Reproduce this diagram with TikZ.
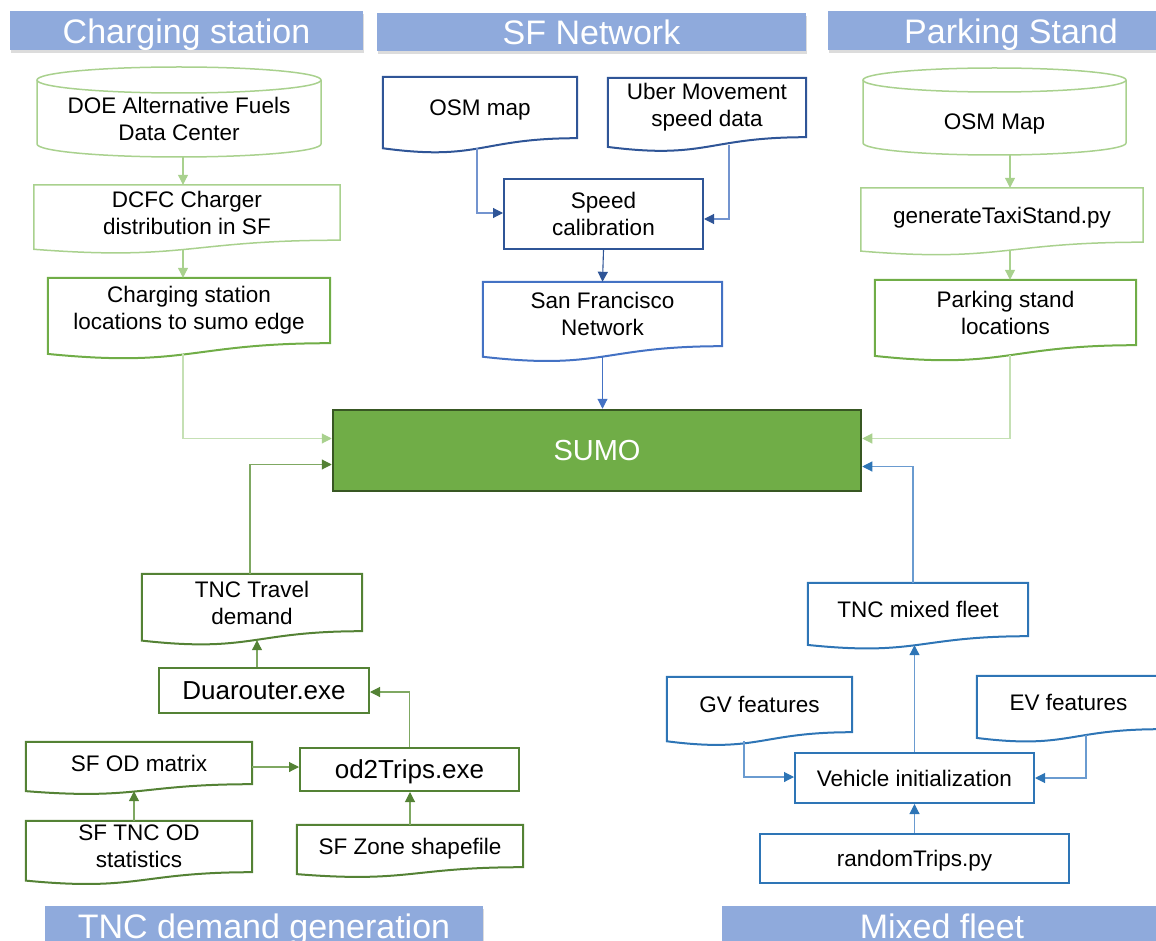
\documentclass[tikz,border=0pt]{standalone}
\usepackage{fontspec}
\setmainfont{Liberation Sans}
\usetikzlibrary{arrows.meta,calc,shadows}
\definecolor{hdrblue}{HTML}{8FAADC}
\definecolor{lgreen}{HTML}{A9D18E}
\definecolor{llgreen}{HTML}{C5E0B4}
\definecolor{mgreen}{HTML}{70AD47}
\definecolor{dgreen}{HTML}{548235}
\definecolor{dgreenl}{HTML}{7FA862}
\definecolor{sumoedge}{HTML}{385723}
\definecolor{dblue}{HTML}{2F5597}
\definecolor{dbluel}{HTML}{7394CF}
\definecolor{mblue}{HTML}{4472C4}
\definecolor{fblue}{HTML}{2E75B6}
\definecolor{fbluel}{HTML}{6A9BD0}
\newcommand{\bodyfont}{\fontsize{22.5}{27}\selectfont}
\newcommand{\hdrfont}{\fontsize{34}{40}\selectfont}
\newcommand{\exefont}{\fontsize{26}{30}\selectfont}
\newcommand{\sumofont}{\fontsize{29}{34}\selectfont}
\newcommand{\docwave}[3]{\draw[#2] (#1.north west) -- (#1.north east) -- (#1.south east) .. controls (#1.south) and ($(#1.south)+(0,#3*0.38)$) .. ($(#1.south west)+(0,#3*0.165)$) -- cycle;}
\newcommand{\cylshape}[6]{%
  \draw[#6] ({(#1+#3)/2},{#2+#5}) ellipse [x radius={(#3-#1)/2}, y radius=#5];
  \draw[#6] (#1,{#2+#5}) -- (#1,{#4-#5}) arc[start angle=180,end angle=0,x radius={(#3-#1)/2},y radius=#5] -- (#3,{#2+#5});}
\begin{document}
\begin{tikzpicture}[x=1pt,y=-1pt,
  txt/.style={font=\bodyfont, align=center, text=black, inner sep=0pt},
  sl/.style={text depth=0pt},
  hdr/.style={fill=hdrblue, text=white, font=\hdrfont, inner sep=0pt, text height=26pt, text depth=0pt,
    drop shadow={opacity=0.28,shadow xshift=1pt,shadow yshift=-3pt}},
  lgline/.style={draw=lgreen, line width=1.5pt},
  mgline/.style={draw=mgreen, line width=2pt},
  dgline/.style={draw=dgreen, line width=2pt},
  dbline/.style={draw=dblue, line width=2pt},
  mbline/.style={draw=mblue, line width=2pt},
  fbline/.style={draw=fblue, line width=2pt},
  arr/.style={line width=1.1pt, -{Triangle[length=10pt,width=10pt]}},
  lgarr/.style={arr, draw=lgreen},
  llgarr/.style={arr, draw=llgreen, -{Triangle[length=10pt,width=10pt,color=lgreen]}},
  dbarr/.style={arr, draw=dbluel, -{Triangle[length=10pt,width=10pt,color=dblue]}},
  dbarrs/.style={arr, draw=dblue},
  mbarr/.style={arr, draw=mblue},
  dgarr/.style={arr, draw=dgreenl, -{Triangle[length=10pt,width=10pt,color=dgreen]}},
  fbarr/.style={arr, draw=fbluel, -{Triangle[length=10pt,width=10pt,color=fblue]}}
]
\useasboundingbox (0,0) rectangle (1156,941);

% ---------- headers ----------
\node[hdr, minimum width=353, minimum height=39] (hcs) at (186.5,30.5) {Charging station};
\node[hdr, minimum width=429, minimum height=38] (hsf) at (591.5,32) {SF Network};
\node[hdr, minimum width=366, minimum height=39] (hps) at (1011,30.5) {Parking Stand};
\node[hdr, minimum width=438, minimum height=39] (htnc) at (264,925.5) {TNC demand generation};
\node[hdr, minimum width=440, minimum height=39] (hmf) at (942,925.5) {Mixed fleet};

% ---------- charging station column ----------
\cylshape{37}{67}{321}{157}{13}{lgline}
\node[txt, minimum width=284, minimum height=77] (doe) at (179,118.5) {DOE Alternative Fuels\\Data Center};
\node[txt, minimum width=306, minimum height=55] (dcfc) at (187,212.5) {DCFC Charger\\distribution in SF};
\docwave{dcfc}{lgline}{55}
\node[txt, minimum width=282, minimum height=65] (csl) at (189,310.5) {Charging station\\locations to sumo edge};
\docwave{csl}{mgline}{65}

% ---------- SF network column ----------
\node[txt, sl, minimum width=194, minimum height=61] (osm) at (480,107.5) {OSM map};
\docwave{osm}{dbline}{61}
\node[txt, minimum width=198, minimum height=59] (uber) at (707,107.5) {Uber Movement\\speed data};
\docwave{uber}{dbline}{59}
\node[txt, dbline, minimum width=199, minimum height=70] (speed) at (603.5,214) {Speed\\calibration};
\node[txt, minimum width=239, minimum height=64] (sfn) at (602.5,314) {San Francisco\\Network};
\docwave{sfn}{mbline}{64}

% ---------- parking stand column ----------
\cylshape{863}{68}{1126}{155}{12}{lgline}
\node[txt, sl, minimum width=263, minimum height=66] (osmm) at (994.5,122) {OSM Map};
\node[txt, sl, minimum width=282, minimum height=54] (gts) at (1002,215) {generateTaxiStand.py};
\docwave{gts}{lgline}{54}
\node[txt, minimum width=261, minimum height=65] (psl) at (1005.5,312.5) {Parking stand\\locations};
\docwave{psl}{mgline}{65}

% ---------- SUMO ----------
\node[fill=mgreen, draw=sumoedge, line width=2.5pt, text=white, font=\sumofont,
      minimum width=528, minimum height=81, inner sep=0pt] (sumo) at (597,450.5) {SUMO};

% ---------- TNC demand generation ----------
\node[txt, minimum width=220, minimum height=57] (tnctd) at (252,602.5) {TNC Travel\\demand};
\docwave{tnctd}{dgline}{57}
\node[txt, sl, dgline, font=\exefont, minimum width=210, minimum height=45] (dua) at (264,690.5) {Duarouter.exe};
\node[txt, sl, minimum width=226, minimum height=42] (odm) at (139,763) {SF OD matrix};
\docwave{odm}{dgline}{42}
\node[txt, sl, dgline, font=\exefont, minimum width=219, minimum height=43] (od2) at (409.5,769.5) {od2Trips.exe};
\node[txt, minimum width=226, minimum height=51] (ods) at (139,846.5) {SF TNC OD\\statistics};
\docwave{ods}{dgline}{51}
\node[txt, sl, minimum width=226, minimum height=42] (zone) at (410,846) {SF Zone shapefile};
\docwave{zone}{dgline}{42}

% ---------- mixed fleet ----------
\node[txt, sl, minimum width=220, minimum height=53] (tmf) at (918,609.5) {TNC mixed fleet};
\docwave{tmf}{fbline}{53}
\node[txt, sl, minimum width=185, minimum height=55] (gv) at (759.5,704.5) {GV features};
\docwave{gv}{fbline}{55}
\node[txt, sl, minimum width=183, minimum height=53] (ev) at (1068.5,702.5) {EV features};
\docwave{ev}{fbline}{53}
\node[txt, sl, fbline, minimum width=239, minimum height=50] (vi) at (914.5,778) {Vehicle initialization};
\node[txt, sl, fbline, minimum width=309, minimum height=49] (rt) at (914.5,858.5) {randomTrips.py};

% ---------- connectors: charging ----------
\draw[lgarr] ($(doe.south)+(4,0)$) -- ($(dcfc.north)+(-4,0)$);
\draw[lgarr] ($(dcfc.south)+(-4,9)$) -- ($(csl.north)+(-6,0)$);
\coordinate (cslb) at ($(csl.south)+(-6,11)$);
\draw[llgarr] (cslb) |- ($(sumo.west)+(0,-12)$);

% ---------- connectors: SF network ----------
\draw[dbarr] ($(osm.south)+(-3,10)$) |- ($(speed.west)+(0,-1)$);
\draw[dbarr] ($(uber.south)+(22,8)$) |- ($(speed.east)+(0,5)$);
\draw[dbarrs] (speed.south) -- (sfn.north);
\coordinate (sfnb) at ($(sfn.south)+(0,10)$);
\draw[mbarr] (sfnb) -- (sfnb |- sumo.north);

% ---------- connectors: parking ----------
\draw[lgarr] ($(osmm.south)+(15.5,0)$) -- ($(gts.north)+(8,0)$);
\draw[lgarr] ($(gts.south)+(8,8)$) -- ($(psl.north)+(4.5,0)$);
\coordinate (pslb) at ($(psl.south)+(4.5,10)$);
\draw[llgarr] (pslb) |- ($(sumo.east)+(0,-12)$);

% ---------- connectors: TNC demand ----------
\draw[dgarr] ($(tnctd.north)+(-2,0)$) |- ($(sumo.west)+(0,14)$);
\draw[dgarr] ($(dua.north)+(-7,0)$) -- ($(tnctd.south)+(5,9)$);
\draw[dgarr] (od2.north) |- ($(dua.east)+(0,1.5)$);
\coordinate (odmr) at ($(odm.east)+(0,4)$);
\draw[dgarr] (odmr) -- (odmr -| od2.west);
\draw[dgarr] ($(ods.north)+(-5,0)$) -- ($(odm.south)+(-5,7)$);
\draw[dgarr] (zone.north) -- (zone.north |- od2.south);

% ---------- connectors: mixed fleet ----------
\draw[fbarr] ($(tmf.north)+(-5,0)$) |- ($(sumo.east)+(0,16)$);
\draw[fbarr] (vi.north) -- ($(tmf.south)+(-3.5,9)$);
\draw[fbarr] (rt.north) -- (vi.south);
\draw[fbarr] ($(gv.south)+(-15.5,9)$) |- ($(vi.west)+(0,-1)$);
\draw[fbarr] ($(ev.south)+(17.5,6)$) |- (vi.east);
\end{tikzpicture}
\end{document}
